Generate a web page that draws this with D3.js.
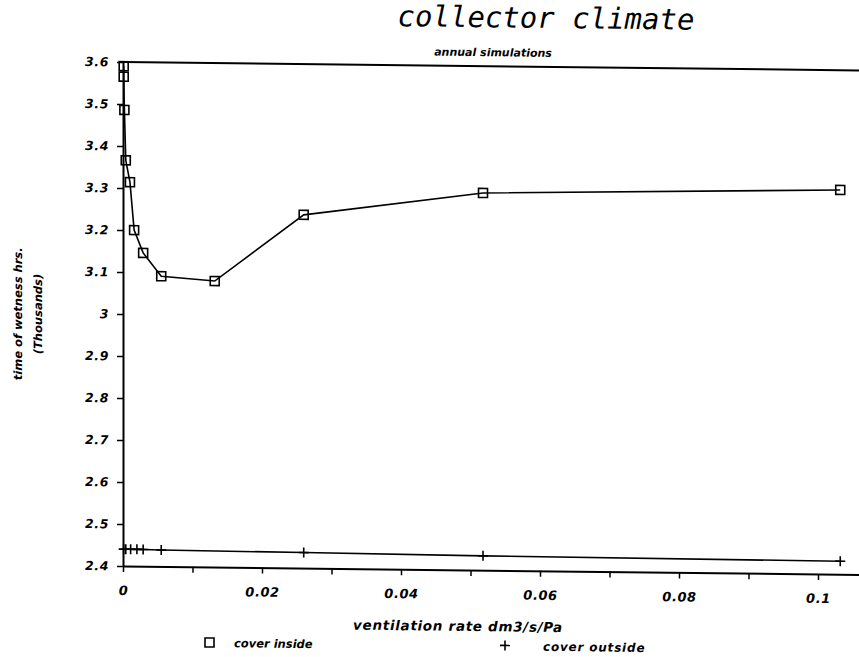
<!DOCTYPE html>
<html>
<head>
<meta charset="utf-8">
<script src="https://cdn.jsdelivr.net/npm/d3@7"></script>
<style>
  html, body { margin: 0; padding: 0; background: #fff; }
  svg { display: block; }
  .lbl { font-family: "DejaVu Sans", sans-serif; font-weight: bold; font-style: oblique; fill: #000; }
</style>
</head>
<body>
<svg id="chart" width="859" height="657"></svg>
<script>
// Ventilation rate (dm3/s/Pa) and time of wetness (thousands of hours)
const insideRate  = [0.0001, 0.0001, 0.0002, 0.0004, 0.0010, 0.0016, 0.0029, 0.0055, 0.0132, 0.0260, 0.0518, 0.1032];
const insideHours = [3.590, 3.565, 3.486, 3.366, 3.314, 3.200, 3.146, 3.091, 3.081, 3.241, 3.298, 3.315];

const outsideRate  = [0.0001, 0.0004, 0.0011, 0.0020, 0.0029, 0.0055, 0.0260, 0.0518, 0.1032];
const outsideHours = [2.440, 2.440, 2.440, 2.440, 2.440, 2.439, 2.437, 2.434, 2.431];

const xTickValues = [0, 0.01, 0.02, 0.03, 0.04, 0.05, 0.06, 0.07, 0.08, 0.09, 0.1];
const xTickLabels = ["0", "", "0.02", "", "0.04", "", "0.06", "", "0.08", "", "0.1"];
const yTickValues = [2.4, 2.5, 2.6, 2.7, 2.8, 2.9, 3.0, 3.1, 3.2, 3.3, 3.4, 3.5, 3.6];
const yTickLabels = ["2.4", "2.5", "2.6", "2.7", "2.8", "2.9", "3", "3.1", "3.2", "3.3", "3.4", "3.5", "3.6"];

const seriesNames = ["cover inside", "cover outside"];

const svg = d3.select("#chart");
// the printed sheet sits slightly askew: everything drops a little towards the right
const k = 0.0115, ox = 123;
const root = svg.append("g").attr("transform", `matrix(1,${k},0,1,0,${-k * ox})`);

const x = d3.scaleLinear().domain([0, 0.1059]).range([123, 859]);
const y = d3.scaleLinear().domain([2.4, 3.6]).range([566, 62]);

// x axis
const xAxis = root.append("g").attr("transform", `translate(0,${y(2.4)})`)
  .call(d3.axisBottom(x).tickValues(xTickValues).tickSize(6).tickSizeOuter(0)
    .tickFormat((d, i) => xTickLabels[i]));
xAxis.select(".domain").attr("stroke", "#000").attr("stroke-width", 2);
xAxis.selectAll(".tick line").attr("stroke", "#000").attr("stroke-width", 1.5);
xAxis.selectAll(".tick text").attr("class", "lbl").attr("font-size", 13)
  .attr("letter-spacing", 0.6).attr("dy", null).attr("y", 29);

// y axis
const yAxis = root.append("g").attr("transform", `translate(${x(0)},0)`)
  .call(d3.axisLeft(y).tickValues(yTickValues).tickSize(6).tickSizeOuter(0)
    .tickFormat((d, i) => yTickLabels[i]));
yAxis.select(".domain").attr("stroke", "#000").attr("stroke-width", 2);
yAxis.selectAll(".tick line").attr("stroke", "#000").attr("stroke-width", 1.5);
yAxis.selectAll(".tick text").attr("class", "lbl").attr("font-size", 12.5)
  .attr("x", -14).attr("letter-spacing", 0.6);

// top frame line at the top of the scale
root.append("line")
  .attr("x1", x(0)).attr("x2", 859)
  .attr("y1", y(3.6)).attr("y2", y(3.6))
  .attr("stroke", "#000").attr("stroke-width", 2);

// cover inside: line with open squares
const lineIn = d3.line().x(d => x(d[0])).y(d => y(d[1]));
const inside = insideRate.map((r, i) => [r, insideHours[i]]);
root.append("path").attr("d", lineIn(inside))
  .attr("fill", "none").attr("stroke", "#000").attr("stroke-width", 1.6);
root.append("g").selectAll("rect").data(inside).join("rect")
  .attr("x", d => x(d[0]) - 4.5).attr("y", d => y(d[1]) - 4.5)
  .attr("width", 9).attr("height", 9)
  .attr("fill", "none").attr("stroke", "#000").attr("stroke-width", 1.6);

// cover outside: line with plus marks
const outside = outsideRate.map((r, i) => [r, outsideHours[i]]);
root.append("path").attr("d", lineIn(outside))
  .attr("fill", "none").attr("stroke", "#000").attr("stroke-width", 1.6);
const plus = root.append("g").selectAll("g").data(outside).join("g")
  .attr("transform", d => `translate(${x(d[0])},${y(d[1])})`);
plus.append("line").attr("x1", -5).attr("x2", 5).attr("stroke", "#000").attr("stroke-width", 1.6);
plus.append("line").attr("y1", -5).attr("y2", 5).attr("stroke", "#000").attr("stroke-width", 1.6);

// titles
root.append("text").attr("x", 546).attr("y", 23).attr("text-anchor", "middle")
  .attr("font-family", "DejaVu Sans Mono, monospace").attr("font-style", "oblique")
  .attr("font-size", 29).text("collector climate");
root.append("text").attr("class", "lbl").attr("x", 493).attr("y", 52)
  .attr("text-anchor", "middle").attr("font-size", 11).text("annual simulations");

root.append("text").attr("class", "lbl").attr("x", 458).attr("y", 627)
  .attr("text-anchor", "middle").attr("font-size", 13.5).attr("letter-spacing", 0.7)
  .text("ventilation rate dm3/s/Pa");

const yt = root.append("g").attr("transform", "translate(22,315) rotate(-90)");
yt.append("text").attr("class", "lbl").attr("text-anchor", "middle").attr("font-size", 11.5)
  .text("time of wetness hrs.");
yt.append("text").attr("class", "lbl").attr("text-anchor", "middle").attr("font-size", 11.5)
  .attr("y", 20).text("(Thousands)");

// legend
const lg = root.append("g");
lg.append("rect").attr("x", 205).attr("y", 637).attr("width", 9).attr("height", 9)
  .attr("fill", "none").attr("stroke", "#000").attr("stroke-width", 1.6);
lg.append("text").attr("class", "lbl").attr("x", 234).attr("y", 646).attr("font-size", 11.5)
  .text(seriesNames[0]);
lg.append("line").attr("x1", 500).attr("x2", 510).attr("y1", 641).attr("y2", 641)
  .attr("stroke", "#000").attr("stroke-width", 1.6);
lg.append("line").attr("x1", 505).attr("x2", 505).attr("y1", 636).attr("y2", 646)
  .attr("stroke", "#000").attr("stroke-width", 1.6);
lg.append("text").attr("class", "lbl").attr("x", 543).attr("y", 646).attr("font-size", 12)
  .attr("letter-spacing", 0.8).text(seriesNames[1]);
</script>
</body>
</html>
